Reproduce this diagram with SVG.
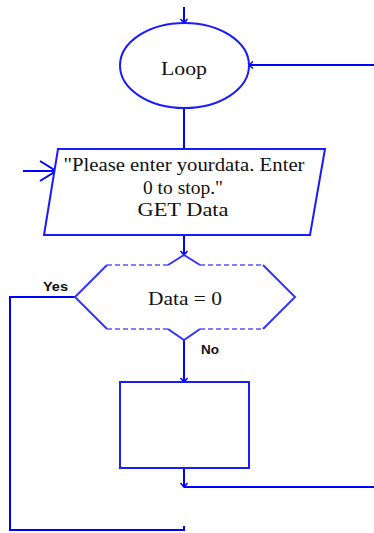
<svg xmlns="http://www.w3.org/2000/svg" width="374" height="533" viewBox="0 0 374 533">
<defs>
<style>
.ln{fill:none;stroke:#0000ff;stroke-width:2}
.sh{fill:#ffffff;stroke:#1a1aff;stroke-width:2}
.dash{fill:none;stroke:#5555ff;stroke-width:1.5;stroke-dasharray:5 3}
.sol{fill:none;stroke:#3333ff;stroke-width:2}
.t{font-family:"Liberation Serif",serif;font-size:18px;fill:#111;text-anchor:middle}
.lb{font-family:"Liberation Sans",Arial,sans-serif;font-size:12px;font-weight:bold;fill:#111}
</style>
<marker id="sm" markerUnits="userSpaceOnUse" markerWidth="10" markerHeight="10" refX="5" refY="5" orient="auto" viewBox="0 0 10 10">
<path d="M1,1.5 L5,5 L1,8.5" fill="none" stroke="#0000ff" stroke-width="1.5"/>
</marker>
<marker id="big" markerUnits="userSpaceOnUse" markerWidth="20" markerHeight="24" refX="18" refY="12" orient="auto" viewBox="0 0 20 24">
<path d="M2,2 L18,12 L2,22" fill="none" stroke="#0000ff" stroke-width="2"/>
</marker>
</defs>
<g id="connectors">
<path class="ln" d="M184,7 L184,23" marker-end="url(#sm)"/>
<path class="ln" d="M374,65 L249,65" marker-end="url(#sm)"/>
<path class="ln" d="M184,108 L184,149"/>
<path class="ln" d="M23,171 L56,171" marker-end="url(#big)"/>
<path class="ln" d="M184,235 L184,255" marker-end="url(#sm)"/>
<path class="ln" d="M184,340 L184,382" marker-end="url(#sm)"/>
<path class="ln" d="M184,468 L184,487" marker-end="url(#sm)"/>
<path class="ln" d="M184,487 L374,487"/>
<path class="ln" d="M75,297 L10,297 L10,530 L184,530 L184,526"/>
<text class="lb" x="43" y="291" textLength="25" lengthAdjust="spacingAndGlyphs">Yes</text>
<text class="lb" x="201" y="354" textLength="18" lengthAdjust="spacingAndGlyphs">No</text>
</g>
<g id="loop">
<ellipse class="sh" cx="184.5" cy="65.5" rx="64.5" ry="42.5"/>
<text class="t" x="184" y="75" font-size="19" textLength="46" lengthAdjust="spacingAndGlyphs">Loop</text>
</g>
<g id="input">
<polygon class="sh" points="58,149 325,149 310,235 44,235"/>
<text class="t" x="184" y="171" textLength="241" lengthAdjust="spacingAndGlyphs">"Please enter yourdata. Enter</text>
<text class="t" x="183" y="194" textLength="80" lengthAdjust="spacingAndGlyphs">0 to stop."</text>
<text class="t" x="183" y="216" textLength="91" lengthAdjust="spacingAndGlyphs">GET Data</text>
</g>
<g id="decision">
<polygon points="107,265 168,265 184,255 200,265 263,265 295,297 263,329 200,329 184,340 168,329 107,329 75,297" fill="#ffffff" stroke="none"/>
<path class="dash" d="M107,265 L168,265 M200,265 L263,265 M107,329 L168,329 M200,329 L263,329"/>
<path class="sol" d="M107,265 L75,297 L107,329 M263,265 L295,297 L263,329 M168,265 L184,255 L200,265 M168,329 L184,340 L200,329"/>
<text class="t" x="185" y="305" textLength="74" lengthAdjust="spacingAndGlyphs">Data = 0</text>
</g>
<g id="process">
<rect class="sh" x="120" y="382" width="129" height="86"/>
</g>
</svg>
